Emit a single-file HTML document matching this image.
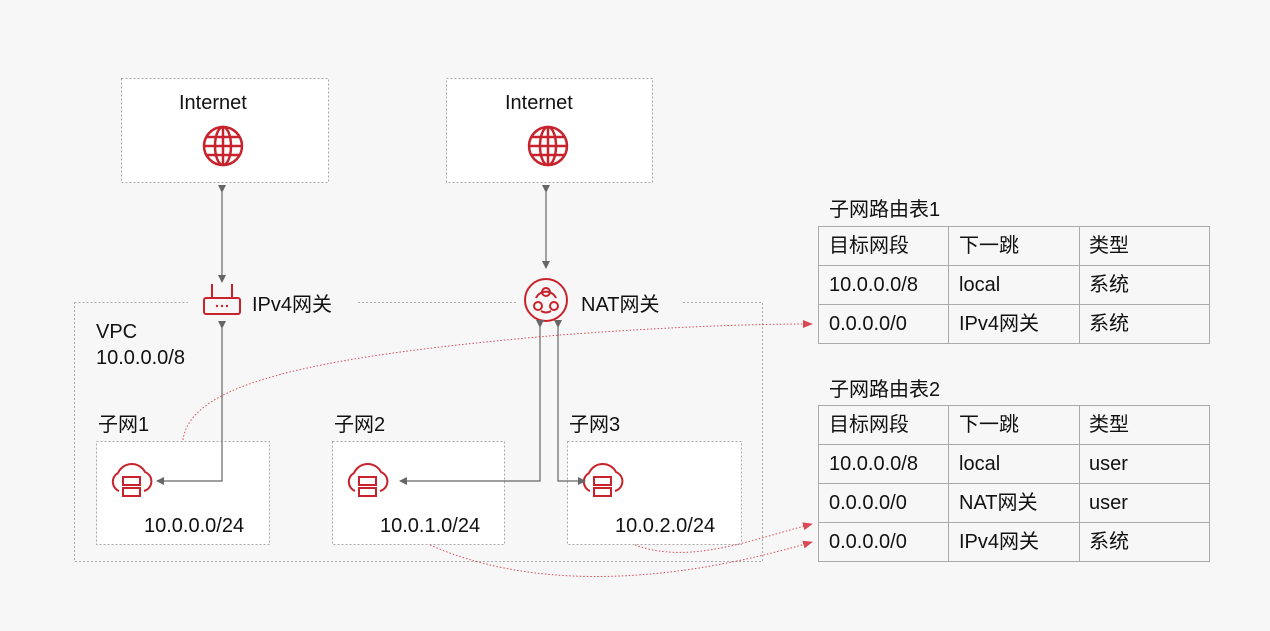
<!DOCTYPE html>
<html><head><meta charset="utf-8"><style>
body{margin:0;background:#f8f7f8;}
svg{display:block;font-family:"Liberation Sans","Noto Sans CJK SC",sans-serif;}
</style></head><body>
<svg width="1270" height="631" viewBox="0 0 1270 631" xmlns="http://www.w3.org/2000/svg">
<defs>
<marker id="ga" markerWidth="8" markerHeight="8" refX="7" refY="4" orient="auto" markerUnits="userSpaceOnUse"><path d="M0,0L8,4L0,8z" fill="#666"/></marker>
<marker id="ra" markerWidth="10" markerHeight="8" refX="9" refY="4" orient="auto" markerUnits="userSpaceOnUse"><path d="M0,0L10,4L0,8z" fill="#d0202a"/></marker>
<g id="cloud">
<path d="M-12,12 A10,10 0 0 1 -13,-6 A15,15 0 0 1 14,-7 A10,10 0 0 1 13,12" fill="none" stroke="#c8232c" stroke-width="2"/>
<rect x="-8" y="-2" width="17" height="8" fill="#fff" stroke="#c8232c" stroke-width="2"/>
<rect x="-8" y="9" width="17" height="8" fill="#fff" stroke="#c8232c" stroke-width="2"/>
</g>
<g id="globe" fill="none" stroke="#c8232c" stroke-width="2.5">
<circle r="19"/><ellipse rx="8" ry="19"/><line x1="-19" y1="0" x2="19" y2="0"/><line x1="-16" y1="-9" x2="16" y2="-9"/><line x1="-16" y1="9" x2="16" y2="9"/><line x1="0" y1="-19" x2="0" y2="19"/>
</g>
</defs>
<g fill="#fff" stroke="#aaa" stroke-dasharray="2,2">
<rect x="121.5" y="78.5" width="207" height="104"/>
<rect x="446.5" y="78.5" width="206" height="104"/>
<rect x="96.5" y="441.5" width="173" height="103"/>
<rect x="332.5" y="441.5" width="172" height="103"/>
<rect x="567.5" y="441.5" width="174" height="103"/>
</g>
<path d="M74.5,302.5 H188 M358,302.5 H518 M683,302.5 H762.5 V561.5 H74.5 V302.5" fill="none" stroke="#aaa" stroke-dasharray="2,2"/>
<g font-size="20" fill="#111">
<text x="179" y="109">Internet</text>
<text x="505" y="109">Internet</text>
<text x="96" y="338">VPC</text>
<text x="96" y="364">10.0.0.0/8</text>
<text x="98" y="431">子网1</text>
<text x="334" y="431">子网2</text>
<text x="569" y="431">子网3</text>
<text x="144" y="532">10.0.0.0/24</text>
<text x="380" y="532">10.0.1.0/24</text>
<text x="615" y="532">10.0.2.0/24</text>
<text x="252" y="311">IPv4网关</text>
<text x="581" y="311">NAT网关</text>
</g>
<use href="#globe" x="223" y="146"/>
<use href="#globe" x="548" y="146"/>
<use href="#cloud" x="131" y="479"/>
<use href="#cloud" x="367" y="479"/>
<use href="#cloud" x="602" y="479"/>
<g fill="none" stroke="#c8232c" stroke-width="2">
<rect x="204" y="298" width="36" height="16" rx="2"/>
<line x1="212" y1="284" x2="212" y2="298"/><line x1="232" y1="284" x2="232" y2="298"/>
<circle cx="546" cy="300" r="21"/>
<circle cx="546" cy="292" r="4"/><circle cx="538" cy="306" r="4"/><circle cx="554" cy="306" r="4"/>
<path d="M536,298 A11,11 0 0 1 556,298 M541,311 Q546,314 551,311"/>
</g>
<g fill="#c8232c"><circle cx="217" cy="306" r="1.2"/><circle cx="222" cy="306" r="1.2"/><circle cx="227" cy="306" r="1.2"/></g>
<g stroke="#666" stroke-width="1.2" fill="none">
<line x1="222" y1="192" x2="222" y2="282" marker-start="url(#ga)" marker-end="url(#ga)"/>
<line x1="546" y1="192" x2="546" y2="268" marker-start="url(#ga)" marker-end="url(#ga)"/>
<path d="M222,328 V481 H157" marker-start="url(#ga)" marker-end="url(#ga)"/>
<path d="M540,327 V481 H400" marker-start="url(#ga)" marker-end="url(#ga)"/>
<path d="M558,327 V481 H585" marker-start="url(#ga)" marker-end="url(#ga)"/>
</g>
<g stroke="#d0202a" stroke-width="1" fill="none" stroke-dasharray="1.5,2" opacity="0.8">
<path d="M183,440 C190,380 330,355 560,335 C680,326 760,324 812,324" marker-end="url(#ra)"/>
<path d="M635,545 C690,565 750,540 812,524" marker-end="url(#ra)"/>
<path d="M430,545 C520,585 650,590 812,542" marker-end="url(#ra)"/>
</g>
<g font-size="20" fill="#111">
<text x="829" y="216">子网路由表1</text>
<text x="829" y="396">子网路由表2</text>
</g>
<g stroke="#aaa" stroke-width="1" fill="none">
<rect x="818.5" y="226.5" width="391" height="117"/>
<line x1="818" y1="265.5" x2="1210" y2="265.5"/><line x1="818" y1="304.5" x2="1210" y2="304.5"/>
<line x1="948.5" y1="226" x2="948.5" y2="344"/><line x1="1079.5" y1="226" x2="1079.5" y2="344"/>
<rect x="818.5" y="405.5" width="391" height="156"/>
<line x1="818" y1="444.5" x2="1210" y2="444.5"/><line x1="818" y1="483.5" x2="1210" y2="483.5"/><line x1="818" y1="522.5" x2="1210" y2="522.5"/>
<line x1="948.5" y1="405" x2="948.5" y2="562"/><line x1="1079.5" y1="405" x2="1079.5" y2="562"/>
</g>
<g font-size="20" fill="#111">
<text x="829" y="252">目标网段</text><text x="959" y="252">下一跳</text><text x="1089" y="252">类型</text>
<text x="829" y="291">10.0.0.0/8</text><text x="959" y="291">local</text><text x="1089" y="291">系统</text>
<text x="829" y="330">0.0.0.0/0</text><text x="959" y="330">IPv4网关</text><text x="1089" y="330">系统</text>
<text x="829" y="431">目标网段</text><text x="959" y="431">下一跳</text><text x="1089" y="431">类型</text>
<text x="829" y="470">10.0.0.0/8</text><text x="959" y="470">local</text><text x="1089" y="470">user</text>
<text x="829" y="509">0.0.0.0/0</text><text x="959" y="509">NAT网关</text><text x="1089" y="509">user</text>
<text x="829" y="548">0.0.0.0/0</text><text x="959" y="548">IPv4网关</text><text x="1089" y="548">系统</text>
</g>
</svg>
</body></html>
